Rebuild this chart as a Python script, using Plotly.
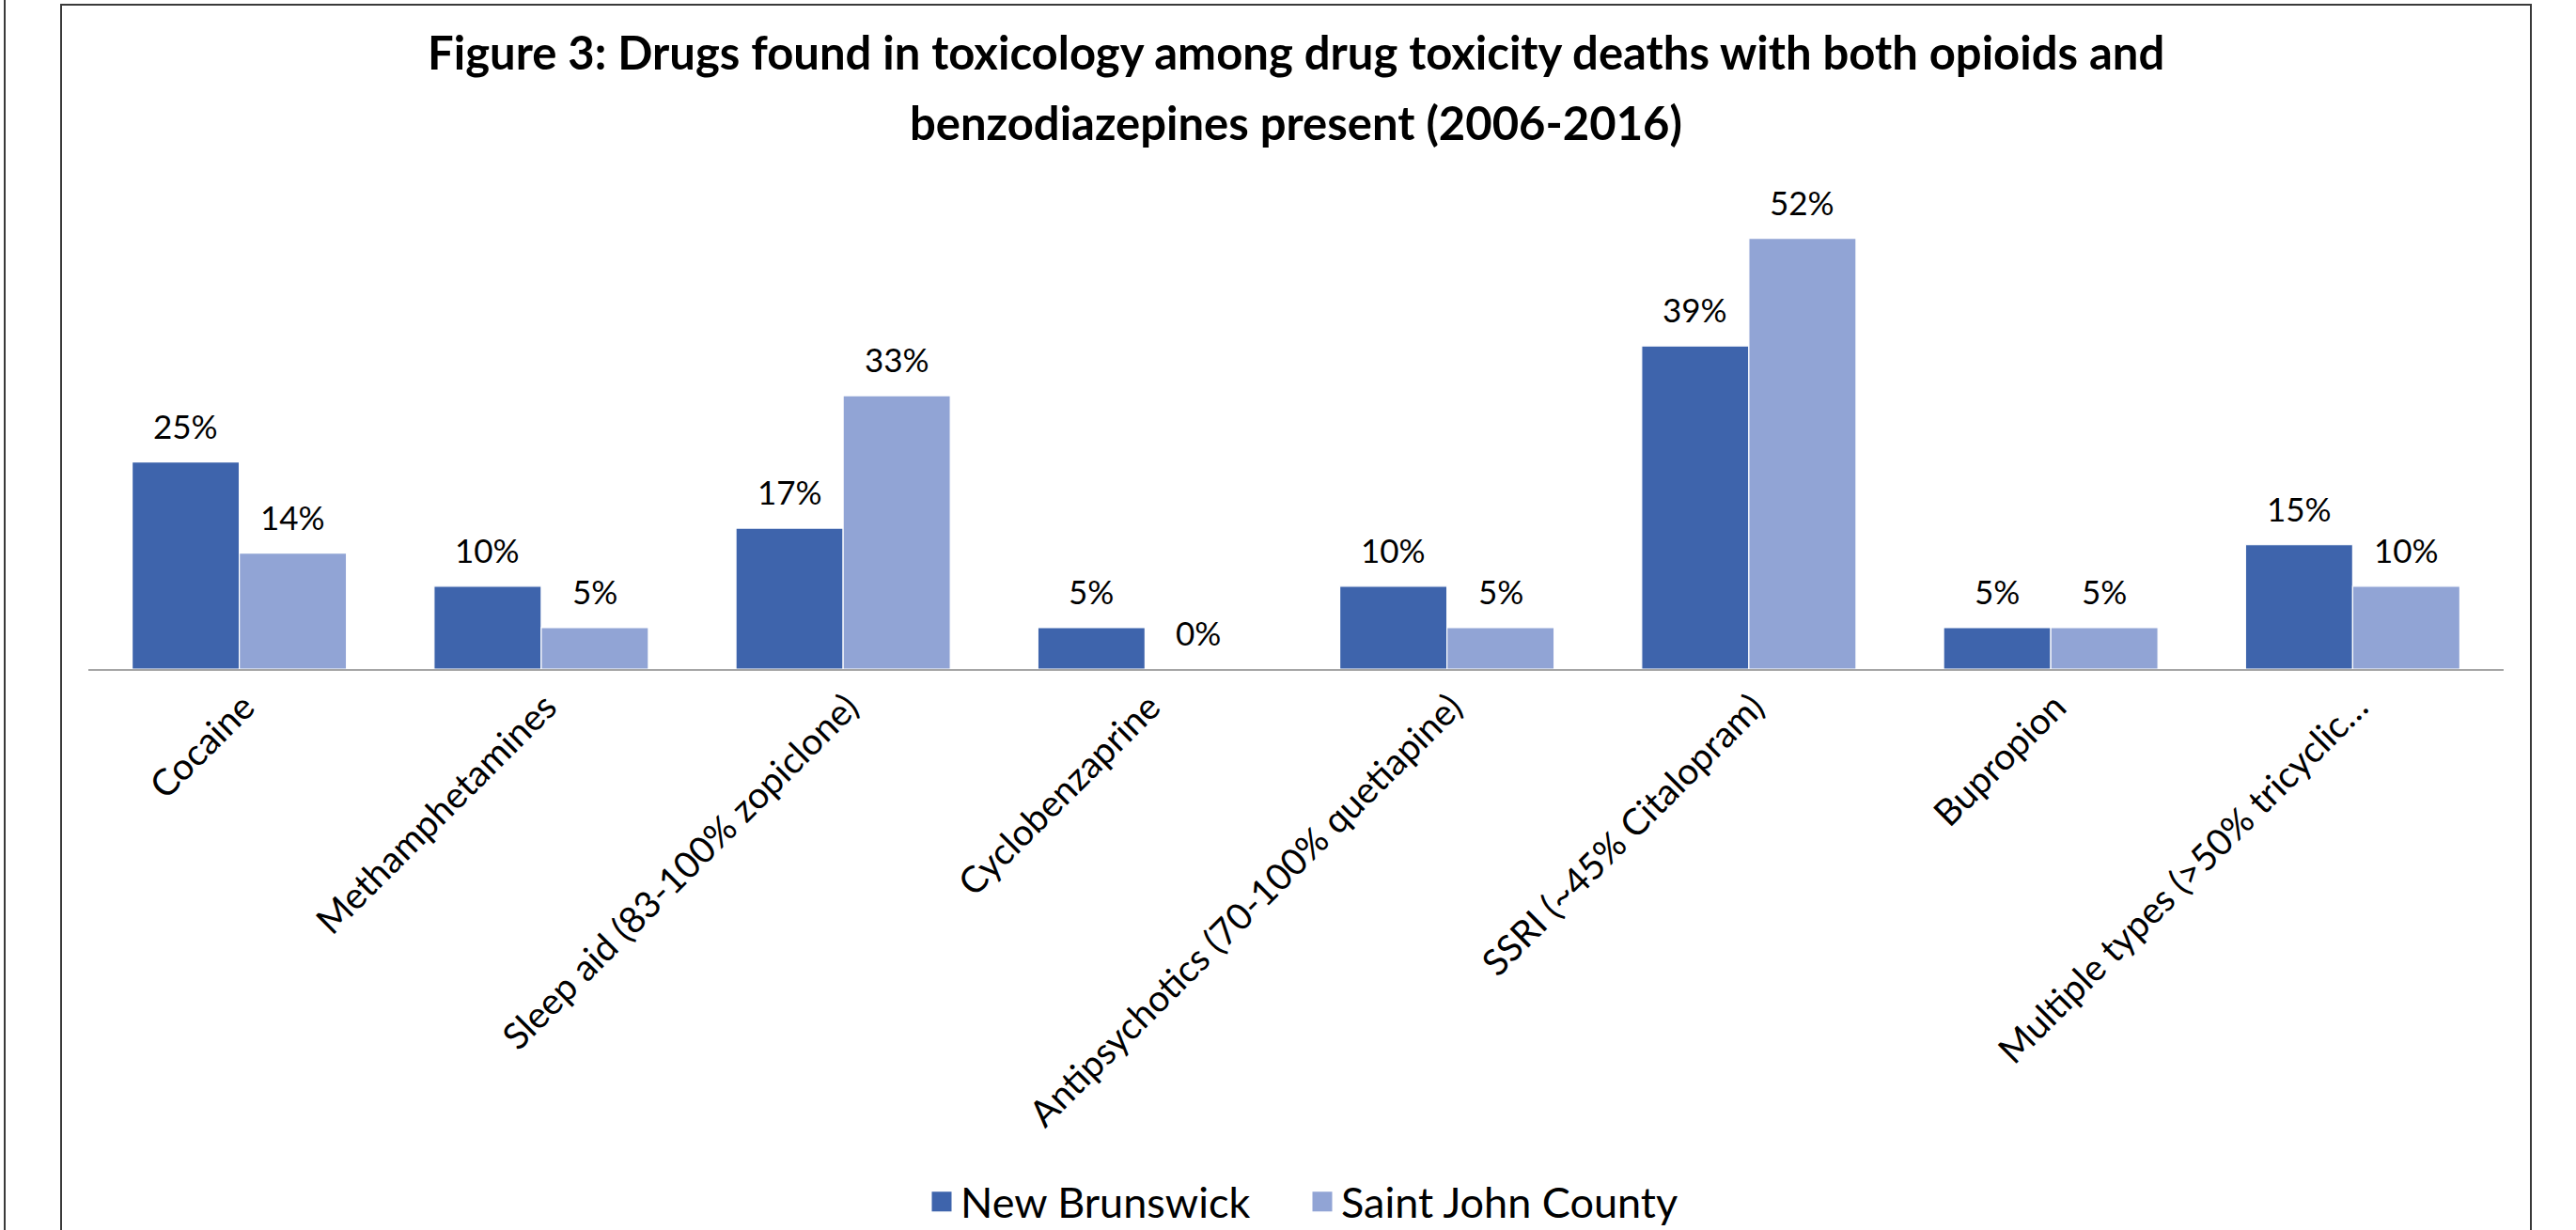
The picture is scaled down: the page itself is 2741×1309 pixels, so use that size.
import plotly.graph_objects as go

# ---- data ----
categories = [
    "Cocaine",
    "Methamphetamines",
    "Sleep aid (83-100% zopiclone)",
    "Cyclobenzaprine",
    "Antipsychotics (70-100% quetiapine)",
    "SSRI (~45% Citalopram)",
    "Bupropion",
    "Multiple types (>50% tricyclic…",
]
series_names = ["New Brunswick", "Saint John County"]
new_brunswick = [0.25, 0.10, 0.17, 0.05, 0.10, 0.39, 0.05, 0.15]
saint_john = [0.14, 0.05, 0.33, 0.00, 0.05, 0.52, 0.05, 0.10]
title_lines = [
    "Figure 3: Drugs found in toxicology among drug toxicity deaths with both opioids and",
    "benzodiazepines present (2006-2016)",
]

# ---- styling / geometry ----
W, H = 2741, 1309
L, R, T, B = 94, 2664, 183, 712          # plot-area pixel box
PW, PH = R - L, B - T
FONT = "Lato, 'Open Sans', sans-serif"
COLORS = ["#3E64AC", "#91A4D5"]
BARGAP = 0.29
Y_MAX = 0.6


def px_x(px):
    return (px - L) / PW


def px_y(py):
    return (B - py) / PH


fig = go.Figure()
for name, vals, col in zip(series_names, [new_brunswick, saint_john], COLORS):
    fig.add_trace(go.Bar(
        x=categories, y=vals, name=name, showlegend=False,
        marker=dict(color=col, line=dict(color="white", width=1.2)),
        hoverinfo="skip",
    ))
    # legend entry with a larger square swatch
    fig.add_trace(go.Scatter(
        x=[None], y=[None], mode="markers", name=name,
        marker=dict(symbol="square", size=20, color=col,
                    line=dict(color=col, width=5)),
    ))

# value labels above each bar
bar_w = PW / len(categories) * (1 - BARGAP) / 2
for i, vals in enumerate([new_brunswick, saint_john]):
    shift = (i - 0.5) * bar_w
    for cat, v in zip(categories, vals):
        fig.add_annotation(
            x=cat, y=v, xref="x", yref="y", text=f"{v:.0%}",
            showarrow=False, xshift=shift, yanchor="bottom", yshift=16,
            font=dict(family=FONT, size=35, color="black"),
        )

# two-line chart title
for line, py in zip(title_lines, [55, 130]):
    fig.add_annotation(
        x=px_x(1379), y=px_y(py), xref="paper", yref="paper",
        text=line, showarrow=False, xanchor="center", yanchor="middle",
        font=dict(family=FONT, size=49, color="black", weight="bold"),
    )

# chart frame and page edge
frame_col = "#3A3A3A"
fig.add_shape(type="line", xref="paper", yref="paper",
              x0=px_x(5), x1=px_x(5), y0=px_y(0), y1=px_y(H),
              line=dict(color=frame_col, width=2))
fig.add_shape(type="path", xref="paper", yref="paper",
              path=(f"M {px_x(65)} {px_y(H + 5)} L {px_x(65)} {px_y(5)} "
                    f"L {px_x(2693)} {px_y(5)} L {px_x(2693)} {px_y(H + 5)}"),
              line=dict(color=frame_col, width=2))

fig.update_layout(
    width=W, height=H,
    margin=dict(l=L, r=W - R, t=T, b=H - B, autoexpand=False),
    paper_bgcolor="white", plot_bgcolor="white",
    barmode="group", bargap=BARGAP, bargroupgap=0,
    font=dict(family=FONT, color="black"),
    showlegend=True,
    legend=dict(
        orientation="h", x=px_x(1387), xanchor="center",
        y=px_y(1279), yanchor="middle",
        font=dict(family=FONT, size=45, color="black"),
        itemsizing="trace", itemwidth=30, traceorder="normal",
        entrywidth=360, entrywidthmode="pixels",
        bgcolor="rgba(0,0,0,0)",
    ),
    xaxis=dict(
        type="category", tickangle=-45, ticks="",
        tickfont=dict(family=FONT, size=39, color="black"),
        ticklabelshift=5,
        showline=True, linecolor="#A6A6A6", linewidth=2,
        showgrid=False, zeroline=False, automargin=False,
        fixedrange=True,
    ),
    yaxis=dict(
        range=[0, Y_MAX], visible=False, showgrid=False,
        zeroline=False, fixedrange=True,
    ),
)

fig.write_html("out.html")
